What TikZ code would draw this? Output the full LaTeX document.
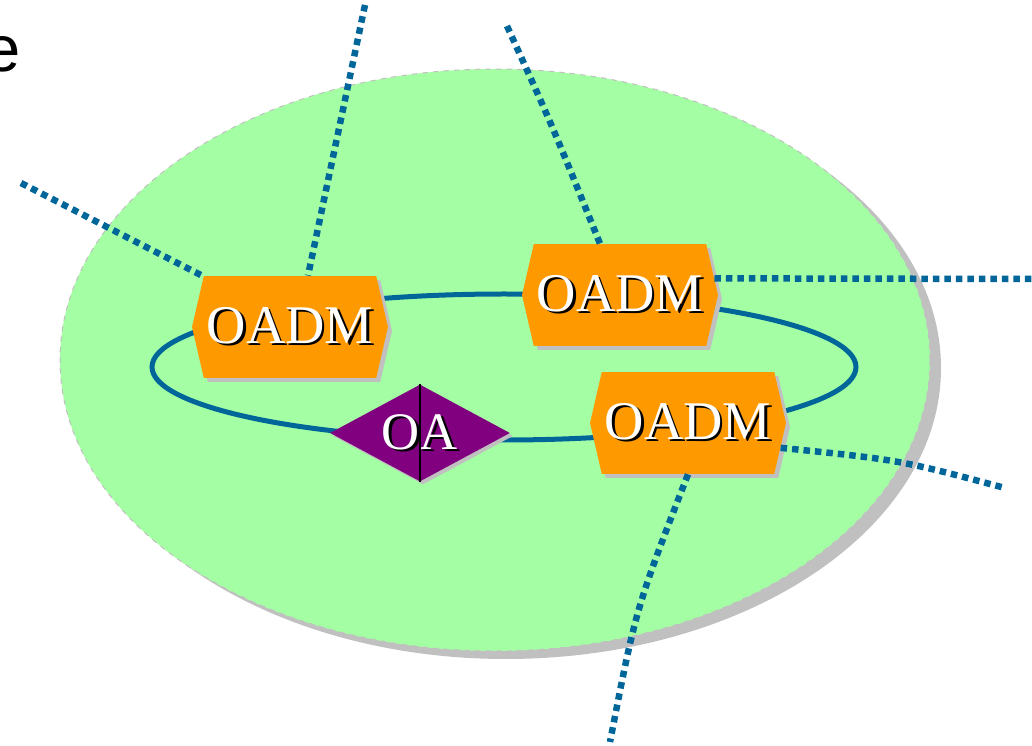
\documentclass[tikz,border=0pt]{standalone}
\usepackage{fontspec}
\setmainfont{Liberation Serif}
\newfontfamily\headsans{Liberation Sans}
\usetikzlibrary{shapes.geometric}
\usetikzlibrary{shapes.symbols}
\usetikzlibrary{shadows}

\definecolor{cloudgreen}{HTML}{A4FFA4}
\definecolor{ringblue}{HTML}{006699}
\definecolor{oadmorange}{HTML}{FF9900}
\definecolor{oapurple}{HTML}{800080}
\definecolor{shadowgray}{HTML}{C0C0C0}

\newcommand{\shadowtext}[1]{\rlap{\kern1.3pt\raisebox{-1.3pt}{\color{black}#1}}{\color{white}#1}}

\begin{document}
\begin{tikzpicture}[x=0.02cm, y=-0.02cm,
	oadm/.style={shape=signal, signal to=east and west, signal pointer angle=154,
		fill=oadmorange, minimum width=3.92cm, minimum height=2.04cm, inner sep=0pt,
		font=\fontsize{31}{31}\selectfont,
		drop shadow={shadow xshift=0.08cm, shadow yshift=-0.08cm, fill=shadowgray, opacity=1}},
	ampl/.style={shape=diamond, aspect=1.86, fill=oapurple, minimum width=3.6cm,
		minimum height=1.94cm, inner sep=0pt, font=\fontsize{30}{30}\selectfont,
		drop shadow={shadow xshift=0.06cm, shadow yshift=-0.06cm, fill=shadowgray, opacity=1}},
	fibre/.style={color=ringblue, line width=0.13cm, dash pattern=on 0.13cm off 0.1cm}]

	\useasboundingbox (0,0) rectangle (1032,746);

	% heading letter, cut at the left edge
	\node[anchor=base east, inner sep=0pt, font=\headsans\fontsize{37}{37}\selectfont] (head) at (21,72) {e};

	% network cloud with its shadow
	\fill[color=shadowgray] (506,368) ellipse (435 and 291);
	\draw[fill=cloudgreen, draw=shadowgray, dashed, line width=0.02cm] (495,360) ellipse (435 and 291);

	% ring
	\draw[color=ringblue, line width=0.1cm] (504,367) ellipse (352 and 73);

	% Nodes
	\node[oadm] (oadmA) at (290,327) {\shadowtext{OADM}};
	\node[oadm] (oadmB) at (620,295) {\shadowtext{OADM}};
	\node[oadm] (oadmC) at (688,423) {\shadowtext{OADM}};
	\node[ampl] (oa) at (420,433) {\shadowtext{OA}};
	\draw[line width=0.04cm] (oa.north) -- (oa.south);

	% free ends of the fibres
	\coordinate (westend) at (21,183);
	\coordinate (northa) at (365,5);
	\coordinate (northb) at (507,26);
	\coordinate (eastend) at (1032,279);
	\coordinate (southeast) at (1005,488);
	\coordinate (southend) at (610,742);

	% Fibres
	\draw[fibre] (westend) -- ([xshift=-1.76cm]oadmA.north);
	\draw[fibre] (northa) -- ([xshift=0.36cm]oadmA.north);
	\draw[fibre] (northb) .. controls (552,125) .. ([xshift=-0.4cm]oadmB.north);
	\draw[fibre] (oadmB.10) -- (eastend);
	\draw[fibre] (oadmC.-15) .. controls (900,460) .. (southeast);
	\draw[fibre] (oadmC.south) .. controls (636,608) .. (southend);
\end{tikzpicture}
\end{document}
